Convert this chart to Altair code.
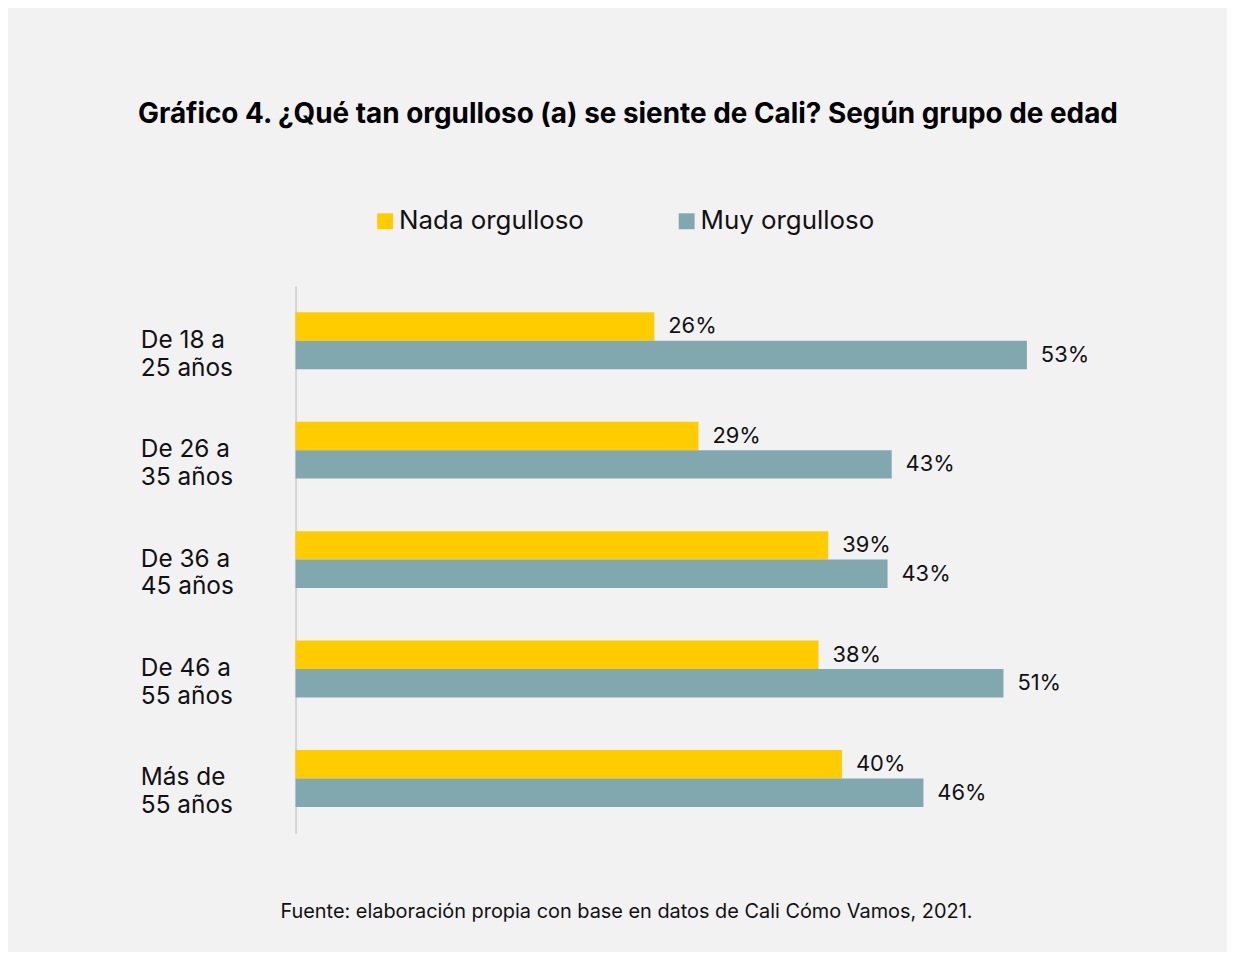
import altair as alt
import pandas as pd

grupos = ["De 18 a|25 años", "De 26 a|35 años", "De 36 a|45 años", "De 46 a|55 años", "Más de|55 años"]
series = ["Nada orgulloso", "Muy orgulloso"]
nada = [26.0, 29.2, 38.6, 37.9, 39.6]
muy = [53.0, 43.2, 42.9, 51.3, 45.5]
colores = ["#FFCC00", "#80A8AE"]

titulo = "Gráfico 4. ¿Qué tan orgulloso (a) se siente de Cali? Según grupo de edad"
fuente = "Fuente: elaboración propia con base en datos de Cali Cómo Vamos, 2021."

rows = []
for g, a, b in zip(grupos, nada, muy):
    rows.append({"grupo": g, "serie": series[0], "valor": a})
    rows.append({"grupo": g, "serie": series[1], "valor": b})
df = pd.DataFrame(rows)

FONT = "Inter"

base = alt.Chart(df).encode(
    y=alt.Y("grupo:N", sort=grupos,
            scale=alt.Scale(paddingInner=0.48, paddingOuter=0.24),
            axis=alt.Axis(title=None, labelExpr="split(datum.label, '|')",
                          labelAlign="left", labelPadding=156, labelFontSize=24.5,
                          labelLineHeight=28, labelBaseline="middle", labelOffset=0,
                          labelColor="#111111", labelFont=FONT, ticks=False,
                          domainColor="#D4D4D4", domainWidth=2)),
    yOffset=alt.YOffset("serie:N", sort=series, scale=alt.Scale(paddingInner=0, paddingOuter=0)),
)

bars = base.mark_bar(height={"band": 1}).encode(
    x=alt.X("valor:Q", scale=alt.Scale(domain=[0, 60]),
            axis=alt.Axis(title=fuente, labels=False, ticks=False, domain=False, grid=False,
                          titleFont=FONT, titleFontSize=20, titleFontWeight="normal",
                          titleColor="#111111", titleX=332, titleY=79,
                          titleAlign="center", titleBaseline="middle", titleAnchor="start")),
    color=alt.Color("serie:N", sort=series,
                    scale=alt.Scale(domain=series, range=colores),
                    legend=alt.Legend(title=None, orient="none", legendX=77, legendY=-78,
                                      direction="horizontal", symbolType="square",
                                      symbolSize=256, symbolStrokeWidth=0, symbolOpacity=1,
                                      labelFont=FONT, labelFontSize=26, labelColor="#111111",
                                      labelOffset=1, labelLimit=400, columnPadding=90)),
)

labels = base.mark_text(align="left", baseline="middle", dx=14, font=FONT,
                        fontSize=22, color="#111111").transform_calculate(
    txt="format(datum.valor, '.0f') + '%'"
).encode(
    x=alt.X("valor:Q"),
    text="txt:N",
)

chart = (bars + labels).properties(
    width=832, height=550,
    autosize=alt.AutoSizeParams(type="none"),
    padding={"left": 289, "top": 277, "right": 104, "bottom": 117},
    background="#F2F2F2",
    title=alt.Title(titulo, font=FONT, fontSize=28, fontWeight="bold", color="#000000",
                    anchor="middle", dx=-82, offset=80),
).configure_view(stroke=None)

chart.save("out.html", embed_options={"renderer": "svg", "actions": False})
